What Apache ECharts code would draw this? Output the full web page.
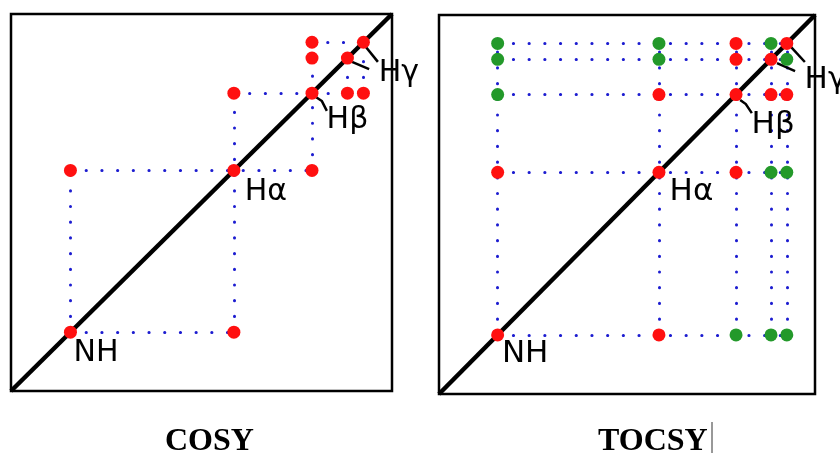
<!DOCTYPE html>
<html><head><meta charset="utf-8">
<script src="https://cdn.jsdelivr.net/npm/echarts@6/dist/echarts.min.js"></script>
<style>html,body{margin:0;padding:0;background:#fff}#c{width:840px;height:456px}</style>
</head><body><div id="c"></div>
<script>
// proton resonances (shared chemical-shift scale, 0..100 across each box)
const protons = ['NH', 'Hα', 'Hβ', 'Hγ1', 'Hγ2'];
const shifts = [15.6, 58.5, 79.0, 88.3, 92.5];

// COSY peaks [xIndex, yIndex] (all red)
const cosyPeaks = [[0,0],[1,1],[2,2],[3,3],[4,4],[0,1],[1,0],[1,2],[2,1],[2,3],[2,4],[3,2],[4,2]];
// COSY dotted guides: [dir, fixedIndex, fromIndex, toIndex]
const cosyGuides = [['h',0,0,1],['v',0,0,1],['h',1,0,2],['v',1,0,2],['h',2,1,4],['v',2,1,4],['h',4,2,4],['v',3,2,3],['v',4,2,4]];

// TOCSY peak colours, rows = y index (NH..Hγ2), columns = x index
const tocsyColors = [
  ['R','R','G','G','G'],
  ['R','R','R','G','G'],
  ['G','R','R','R','R'],
  ['G','G','R','R','G'],
  ['G','G','R','G','R']
];
const tocsyGuides = [['h',0,0,4],['h',1,0,4],['h',2,0,4],['h',3,0,4],['h',4,0,4],
                     ['v',0,0,4],['v',1,0,4],['v',2,0,4],['v',3,0,4],['v',4,0,4]];

// labels [text, x, y] in data coords (text left-middle)
const cosyLabels = [['NH',16.3,10.1],['Hα',61.2,52.7],['Hβ',82.7,71.9],['Hγ',96.4,84.4]];
const tocsyLabels = [['NH',16.6,10.6],['Hα',61.2,53.3],['Hβ',83.0,71.0],['Hγ',97.1,82.8]];

// leader strokes from diagonal peaks to labels (data coords)
const cosyLeaders = [[[80.0,78.0],[81.6,76.9],[82.9,74.3]], [[89.5,87.3],[94.0,85.4]], [[93.2,91.2],[96.3,87.3]]];
const tocsyLeaders = [[[80.1,77.6],[81.6,76.5],[83.2,74.1]], [[89.9,87.3],[94.7,85.2]], [[93.6,91.6],[97.3,87.6]]];

const panelTitles = ['COSY', 'TOCSY'];

const RED = '#ff1010', GREEN = '#23992a', BLUE = '#1c1cd0';

function guideData(g) {
  return g.map(s => s[0] === 'h'
    ? { coords: [[shifts[s[2]], shifts[s[1]]], [shifts[s[3]], shifts[s[1]]]] }
    : { coords: [[shifts[s[1]], shifts[s[2]]], [shifts[s[1]], shifts[s[3]]]] });
}

function panelSeries(p, guides, peaks, labels, leaders, labelSize) {
  return [
    { type: 'lines', coordinateSystem: 'cartesian2d', xAxisIndex: p, yAxisIndex: p, silent: true, z: 1,
      data: guideData(guides),
      lineStyle: { color: BLUE, width: 3, type: [0.2, 15.5], cap: 'round', opacity: 1 } },
    { type: 'line', xAxisIndex: p, yAxisIndex: p, data: [[0,0],[100,100]], symbol: 'none', clip: false, z: 2,
      lineStyle: { color: '#000', width: 4.5 } },
    { type: 'lines', coordinateSystem: 'cartesian2d', xAxisIndex: p, yAxisIndex: p, polyline: true, silent: true, z: 3,
      data: leaders.map(l => ({ coords: l })),
      lineStyle: { color: '#000', width: 2.5, opacity: 1 } },
    { type: 'scatter', xAxisIndex: p, yAxisIndex: p, symbol: 'circle', symbolSize: 13, z: 4,
      itemStyle: { opacity: 1 },
      data: peaks },
    { type: 'scatter', xAxisIndex: p, yAxisIndex: p, symbolSize: 1, z: 5,
      itemStyle: { color: 'rgba(0,0,0,0)', opacity: 1 },
      data: labels.map(l => ({ name: l[0], value: [l[1], l[2]] })),
      label: { show: true, position: 'right', distance: 0, formatter: '{b}',
        fontFamily: 'DejaVu Sans', fontSize: labelSize, color: '#000', opacity: 1 } }
  ];
}

const cosyPeakData = cosyPeaks.map(pk => ({ value: [shifts[pk[0]], shifts[pk[1]]], itemStyle: { color: RED, opacity: 1 } }));
const tocsyPeakData = [];
tocsyColors.forEach((row, yi) => row.forEach((c, xi) => {
  tocsyPeakData.push({ value: [shifts[xi], shifts[yi]], itemStyle: { color: c === 'R' ? RED : GREEN, opacity: 1 } });
}));

const chart = echarts.init(document.getElementById('c'), null, { renderer: 'canvas' });
chart.setOption({
  animation: false,
  backgroundColor: '#fff',
  title: [
    { text: panelTitles[0], left: 160, top: 421, textStyle: { fontFamily: 'Liberation Serif', fontWeight: 'bold', fontSize: 32, color: '#000' } },
    { text: panelTitles[1], left: 593, top: 421, textStyle: { fontFamily: 'Liberation Serif', fontWeight: 'bold', fontSize: 32, color: '#000' } }
  ],
  grid: [
    { left: 11, top: 14, width: 381, height: 377, show: true, borderColor: '#000', borderWidth: 2.5, backgroundColor: 'transparent' },
    { left: 439, top: 15, width: 376, height: 379, show: true, borderColor: '#000', borderWidth: 2.5, backgroundColor: 'transparent' }
  ],
  xAxis: [0, 1].map(i => ({ gridIndex: i, type: 'value', min: 0, max: 100, show: false })),
  yAxis: [0, 1].map(i => ({ gridIndex: i, type: 'value', min: 0, max: 100, show: false })),
  graphic: [
    { type: 'line', shape: { x1: 712, y1: 422, x2: 712, y2: 453 }, style: { stroke: '#333', lineWidth: 1 } }
  ],
  series: [].concat(
    panelSeries(0, cosyGuides, cosyPeakData, cosyLabels, cosyLeaders, 30),
    panelSeries(1, tocsyGuides, tocsyPeakData, tocsyLabels, tocsyLeaders, 31)
  )
});
</script></body></html>
